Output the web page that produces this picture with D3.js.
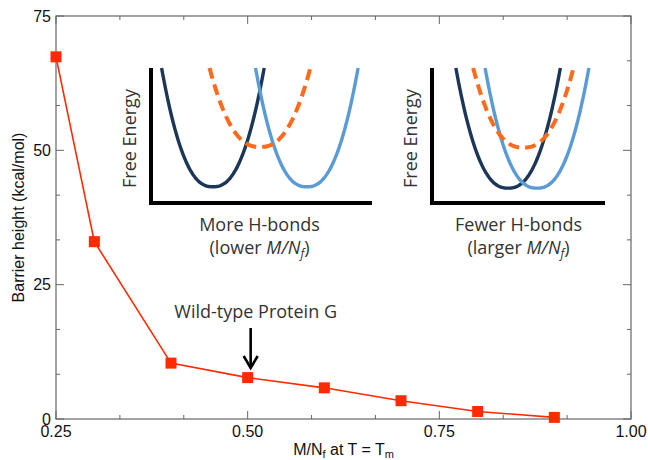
<!DOCTYPE html>
<html>
<head>
<meta charset="utf-8">
<script src="https://cdn.jsdelivr.net/npm/d3@7"></script>
<style>
  html, body { margin: 0; padding: 0; background: #fff; }
  svg { display: block; }
  .tick-label { font-family: "Liberation Sans", Arial, Helvetica, sans-serif; font-size: 16px; fill: #111; }
  .axis-title { font-family: "Liberation Sans", Arial, Helvetica, sans-serif; font-size: 16px; fill: #111; }
  .inset-text { font-family: "Open Sans", "Noto Sans", sans-serif; font-size: 18px; fill: #333; }
</style>
</head>
<body>
<svg id="chart" width="648" height="460"></svg>
<script>
// Barrier height vs. M/N_f at the melting temperature
const fraction = [0.25, 0.30, 0.40, 0.50, 0.60, 0.70, 0.80, 0.90];
const barrier  = [67.4, 33.0, 10.4, 7.7, 5.8, 3.4, 1.4, 0.3];

const xMajorTicks = [0.25, 0.50, 0.75, 1.00];
const xTickLabels = ["0.25", "0.50", "0.75", "1.00"];
const yMajorTicks = [0, 25, 50, 75];
const yTickLabels = ["0", "25", "50", "75"];

// Schematic free-energy wells for the two insets (inset-local units 0..1)
const wellNames   = ["folded", "unfolded", "barrier"];
const moreCenters = [0.28, 0.705, 0.493];
const moreMinima  = [0.12, 0.12, 0.415];
const moreWidths  = [0.232, 0.232, 0.228];
const fewerCenters = [0.44, 0.607, 0.528];
const fewerMinima  = [0.11, 0.11, 0.41];
const fewerWidths  = [0.302, 0.30, 0.29];

const svg = d3.select("#chart");
const W = 648, H = 460;
const margin = { left: 56, right: 17, top: 16, bottom: 41 };
const plotW = W - margin.left - margin.right;
const plotH = H - margin.top - margin.bottom;

const x = d3.scaleLinear().domain([0.25, 1.0]).range([margin.left, margin.left + plotW]);
const y = d3.scaleLinear().domain([0, 75]).range([margin.top + plotH, margin.top]);

const frameColor = "#666";
const red = "#ff2a00";

// Minor ticks split each major interval into thirds
const xMinor = d3.range(0.25, 1.0001, 0.25 / 3);
const yMinor = d3.range(0, 75.001, 25 / 3);

const g = svg.append("g");

// Tick marks on all four sides, pointing inward
function tickSet(values, isX, lenFn) {
  values.forEach(v => {
    const len = lenFn(v);
    if (isX) {
      const px = x(v);
      g.append("line").attr("x1", px).attr("x2", px)
        .attr("y1", y(0)).attr("y2", y(0) - len)
        .attr("stroke", frameColor).attr("stroke-width", 1);
      g.append("line").attr("x1", px).attr("x2", px)
        .attr("y1", y(75)).attr("y2", y(75) + len)
        .attr("stroke", frameColor).attr("stroke-width", 1);
    } else {
      const py = y(v);
      g.append("line").attr("x1", x(0.25)).attr("x2", x(0.25) + len)
        .attr("y1", py).attr("y2", py)
        .attr("stroke", frameColor).attr("stroke-width", 1);
      g.append("line").attr("x1", x(1.0)).attr("x2", x(1.0) - len)
        .attr("y1", py).attr("y2", py)
        .attr("stroke", frameColor).attr("stroke-width", 1);
    }
  });
}
const isMajor = (v, step) => Math.abs(v / step - Math.round(v / step)) < 1e-6;
tickSet(xMinor, true, v => isMajor(v - 0.25, 0.25) ? 8 : 4);
tickSet(yMinor, false, v => isMajor(v, 25) ? 8 : 4);

// Frame
g.append("rect")
  .attr("x", x(0.25)).attr("y", y(75))
  .attr("width", x(1.0) - x(0.25)).attr("height", y(0) - y(75))
  .attr("fill", "none").attr("stroke", frameColor).attr("stroke-width", 1.2);

// Tick labels
g.selectAll(".xlab").data(xMajorTicks).enter().append("text")
  .attr("class", "tick-label")
  .attr("x", d => x(d)).attr("y", y(0) + 18)
  .attr("text-anchor", "middle")
  .text((d, i) => xTickLabels[i]);

g.selectAll(".ylab").data(yMajorTicks).enter().append("text")
  .attr("class", "tick-label")
  .attr("x", x(0.25) - 5).attr("y", d => y(d))
  .attr("dy", "0.36em")
  .attr("text-anchor", "end")
  .text((d, i) => yTickLabels[i]);

// Axis titles
const xt = g.append("text").attr("class", "axis-title")
  .attr("x", (x(0.25) + x(1.0)) / 2).attr("y", 455)
  .attr("text-anchor", "middle");
xt.append("tspan").text("M/N");
xt.append("tspan").attr("font-size", "11px").attr("dy", "3").text("f");
xt.append("tspan").attr("dy", "-3").text(" at T = T");
xt.append("tspan").attr("font-size", "11px").attr("dy", "3").text("m");

g.append("text").attr("class", "axis-title")
  .attr("transform", `translate(24, ${(y(0) + y(75)) / 2}) rotate(-90)`)
  .attr("text-anchor", "middle")
  .text("Barrier height (kcal/mol)");

// Data line and square markers
const pts = fraction.map((f, i) => [f, barrier[i]]);
g.append("path")
  .datum(pts)
  .attr("fill", "none").attr("stroke", red).attr("stroke-width", 1.6)
  .attr("d", d3.line().x(d => x(d[0])).y(d => y(d[1])));

const sq = 11;
g.selectAll(".pt").data(pts).enter().append("rect")
  .attr("x", d => x(d[0]) - sq / 2).attr("y", d => y(d[1]) - sq / 2)
  .attr("width", sq).attr("height", sq)
  .attr("fill", red);

// Annotation for wild-type protein G
const wtIndex = 3;
g.append("text").attr("class", "inset-text")
  .attr("x", x(fraction[wtIndex]) + 8).attr("y", 318)
  .attr("text-anchor", "middle").attr("fill", "#222")
  .text("Wild-type Protein G");

const ax = x(fraction[wtIndex]) + 3;
g.append("line")
  .attr("x1", ax).attr("x2", ax)
  .attr("y1", 328).attr("y2", 366)
  .attr("stroke", "#000").attr("stroke-width", 2.6);
g.append("path")
  .attr("d", d3.line()([[ax - 7, 356], [ax, 368], [ax + 7, 356]]))
  .attr("fill", "none").attr("stroke", "#000").attr("stroke-width", 2.6)
  .attr("stroke-linejoin", "miter");

// Inset schematics
const wellColors = ["#1c3657", "#5b9bd5", "#ff6b1a"];
const wellDash = [null, null, "11,6"];
const wellStroke = [3.4, 3.4, 4];

function drawInset(box, centers, minima, widths, line1, line2a, line2b) {
  const ix = d3.scaleLinear().domain([0, 1]).range([box.x0, box.x1]);
  const iy = d3.scaleLinear().domain([0, 1]).range([box.y0, box.y1]);
  const ig = svg.append("g");

  wellNames.forEach((name, k) => {
    const c = centers[k], m = minima[k], w = widths[k];
    const samples = d3.range(-1, 1.0001, 0.02).map(t => [c + t * w, m + (1 - m) * Math.pow(Math.abs(t), 2.4)]);
    ig.append("path")
      .datum(samples)
      .attr("fill", "none")
      .attr("stroke", wellColors[k])
      .attr("stroke-width", wellStroke[k])
      .attr("stroke-dasharray", wellDash[k])
      .attr("d", d3.line().curve(d3.curveBasis).x(d => ix(d[0])).y(d => iy(d[1])));
  });

  // Thick schematic axes
  ig.append("path")
    .attr("d", d3.line()([[ix(0), iy(1)], [ix(0), iy(0)], [ix(1), iy(0)]]))
    .attr("fill", "none").attr("stroke", "#000").attr("stroke-width", 4)
    .attr("stroke-linejoin", "miter");

  ig.append("text").attr("class", "inset-text")
    .attr("transform", `translate(${ix(0) - 15}, ${(iy(0) + iy(1)) / 2 + 3}) rotate(-90)`)
    .attr("text-anchor", "middle")
    .text("Free Energy");

  const cx = (ix(0) + ix(1)) / 2 + box.labelShift;
  ig.append("text").attr("class", "inset-text")
    .attr("x", cx).attr("y", box.y0 + 28)
    .attr("text-anchor", "middle")
    .text(line1);
  const t2 = ig.append("text").attr("class", "inset-text")
    .attr("x", cx).attr("y", box.y0 + 51)
    .attr("text-anchor", "middle");
  t2.append("tspan").text(line2a);
  t2.append("tspan").attr("font-style", "italic").text("M/N");
  t2.append("tspan").attr("font-style", "italic").attr("font-size", "12px").attr("dy", "4").text("f");
  t2.append("tspan").attr("dy", "-4").text(line2b);
}

drawInset({ x0: 151, x1: 372, y0: 203, y1: 68, labelShift: -2 },
  moreCenters, moreMinima, moreWidths, "More H-bonds", "(lower ", ")");
drawInset({ x0: 432, x1: 605, y0: 203, y1: 68, labelShift: 0 },
  fewerCenters, fewerMinima, fewerWidths, "Fewer H-bonds", "(larger ", ")");
</script>
</body>
</html>
